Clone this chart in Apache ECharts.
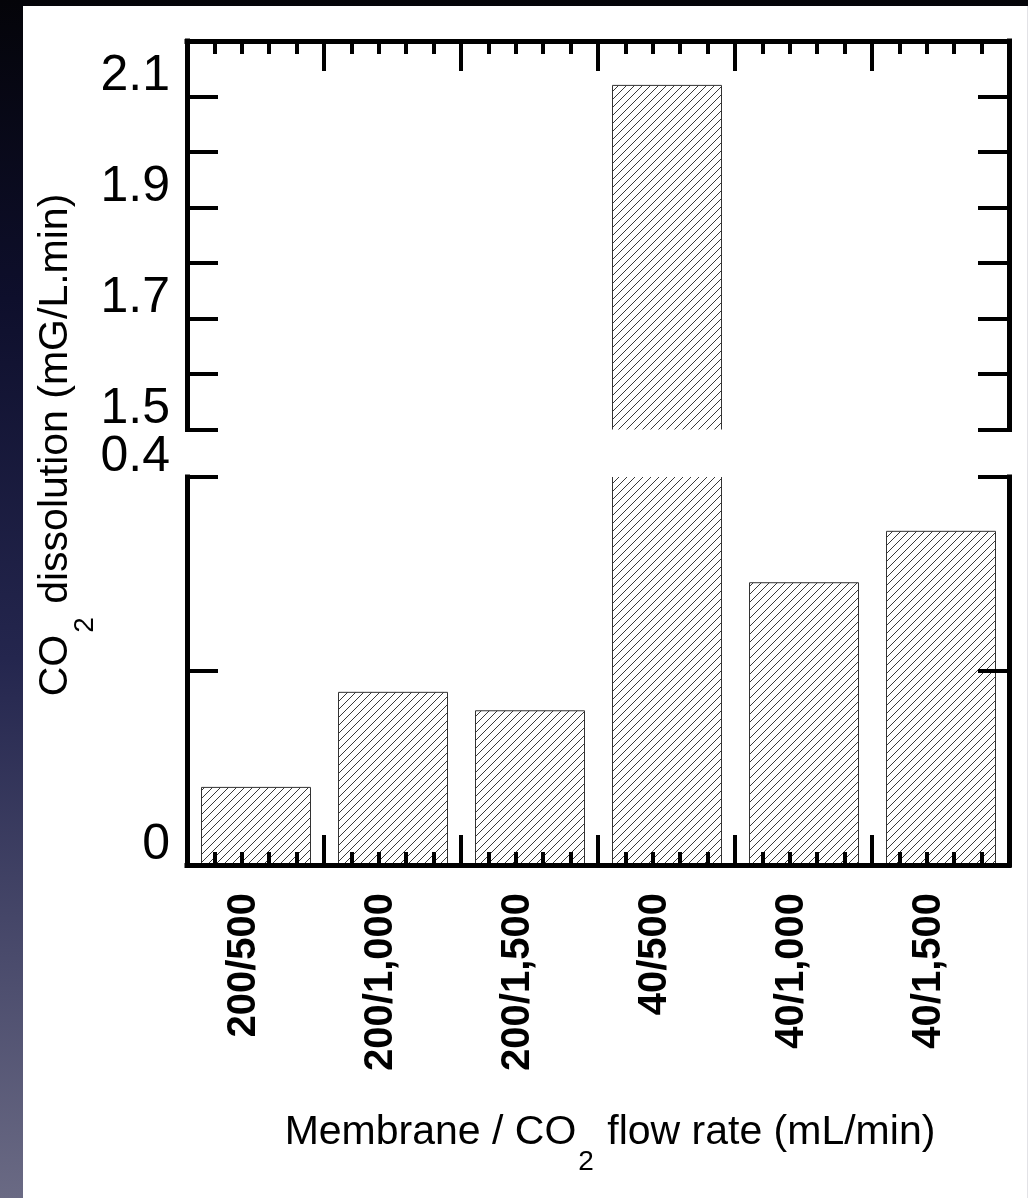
<!DOCTYPE html>
<html>
<head>
<meta charset="utf-8">
<script src="https://cdn.jsdelivr.net/npm/echarts@6/dist/echarts.min.js"></script>
<style>
  html, body { margin: 0; padding: 0; background: #000; }
  #chart { width: 1028px; height: 1198px; }
</style>
</head>
<body>
<div id="chart"></div>
<script>
// Membrane / CO2 flow rate combinations and measured dissolution (mG/L.min)
const categories = ['200/500', '200/1,000', '200/1,500', '40/500', '40/1,000', '40/1,500'];
const dissolution = [0.08, 0.178, 0.159, 2.12, 0.291, 0.344];

// broken value axis: upper and lower segments
const upperRange = [1.5, 2.2];
const lowerRange = [0, 0.4];
const upperTickLabels = ['1.5', '1.7', '1.9', '2.1'];
const lowerTickLabels = ['0', '0.4'];

const FONT = 'Liberation Sans, Arial, Helvetica, sans-serif';

// diagonal hatch fill for the bars
function hatchPattern() {
  const s = 8;
  const c = document.createElement('canvas');
  c.width = s; c.height = s;
  const g = c.getContext('2d');
  g.fillStyle = '#ffffff';
  g.fillRect(0, 0, s, s);
  g.strokeStyle = '#3a3a3a';
  g.lineWidth = 1;
  g.beginPath();
  g.moveTo(0, s); g.lineTo(s, 0);
  g.moveTo(-1, 1); g.lineTo(1, -1);
  g.moveTo(s - 1, s + 1); g.lineTo(s + 1, s - 1);
  g.stroke();
  return { image: c, repeat: 'repeat' };
}
const hatch = hatchPattern();

function fmtTick(list) {
  return function (v) {
    const s = Math.abs(v) < 1e-9 ? '0' : (+v).toFixed(1);
    return list.indexOf(s) >= 0 ? s : '';
  };
}

// hatched bar, cut at the plot edges without an outline on the cut side
function renderBar(params, api) {
  const idx = api.value(0);
  const val = api.value(1);
  const top = api.coord([idx, val]);
  const base = api.coord([idx, 0]);
  const w = api.size([1, 0])[0] * 0.8;
  const cs = params.coordSys;
  const y0 = Math.max(top[1], cs.y);
  const y1 = Math.min(base[1], cs.y + cs.height);
  if (y1 <= y0) return null;
  const x0 = Math.round(top[0] - w / 2) + 0.5;
  const x1 = Math.round(top[0] + w / 2) + 0.5;
  const cutTop = top[1] < cs.y;
  const pts = [[x0, y1], [x0, y0]];
  const children = [{
    type: 'rect',
    shape: { x: x0, y: y0, width: x1 - x0, height: y1 - y0 },
    style: { fill: hatch }
  }];
  if (cutTop) {
    children.push({ type: 'polyline', shape: { points: [[x0, y1], [x0, y0]] }, style: { stroke: '#333', lineWidth: 1, fill: null } });
    children.push({ type: 'polyline', shape: { points: [[x1, y1], [x1, y0]] }, style: { stroke: '#333', lineWidth: 1, fill: null } });
  } else {
    children.push({ type: 'polyline', shape: { points: [[x0, y1], [x0, y0], [x1, y0], [x1, y1]] }, style: { stroke: '#333', lineWidth: 1, fill: null } });
  }
  return { type: 'group', children: children };
}

const axisLineStyle = { color: '#000', width: 5, cap: 'square' };
const tickStyle = { color: '#000', width: 4 };

function tickXAxis(gridIndex, position) {
  return {
    type: 'value', gridIndex: gridIndex, position: position,
    min: 0, max: categories.length, interval: 1,
    axisLine: { show: true, lineStyle: axisLineStyle },
    axisTick: { show: true, inside: true, length: 30, lineStyle: tickStyle },
    minorTick: { show: true, splitNumber: 5, length: 13, lineStyle: tickStyle },
    axisLabel: { show: false },
    splitLine: { show: false }, minorSplitLine: { show: false },
    z: 5
  };
}

function valueYAxis(gridIndex, position, range, interval, labels) {
  return {
    type: 'value', gridIndex: gridIndex, position: position,
    min: range[0], max: range[1], interval: interval,
    axisLine: { show: true, lineStyle: axisLineStyle },
    axisTick: { show: true, inside: true, length: 31, lineStyle: tickStyle },
    axisLabel: labels ? {
      show: true, formatter: fmtTick(labels), color: '#000',
      fontFamily: FONT, fontSize: 50, margin: 17,
      verticalAlign: 'bottom', lineHeight: 40
    } : { show: false },
    splitLine: { show: false },
    z: 5
  };
}

const barData = dissolution.map(function (v, i) { return [i, v]; });

const chart = echarts.init(document.getElementById('chart'), null, { renderer: 'canvas' });

chart.setOption({
  animation: false,
  graphic: {
    elements: [
      {
        type: 'rect', silent: true, z: -100,
        shape: { x: 0, y: 0, width: 1028, height: 1198 },
        style: {
          fill: new echarts.graphic.LinearGradient(0, 0, 0, 1, [
            { offset: 0, color: '#040409' },
            { offset: 0.25, color: '#0e0f2c' },
            { offset: 0.55, color: '#24264e' },
            { offset: 0.8, color: '#4a4b6c' },
            { offset: 1, color: '#6a6a84' }
          ])
        }
      },
      {
        type: 'rect', silent: true, z: -99,
        shape: { x: 23, y: 6, width: 1005, height: 1192 },
        style: { fill: '#ffffff' }
      },
      {
        type: 'rect', silent: true, z: -98,
        shape: { x: 1027, y: 6, width: 1, height: 1192 },
        style: { fill: '#e2e2e6' }
      },
      {
        type: 'text', silent: true, z: 10,
        x: 56, y: 445, rotation: Math.PI / 2,
        style: {
          text: '{n|CO}{s|2}{n| dissolution (mG/L.min)}',
          align: 'center', verticalAlign: 'middle',
          rich: {
            n: { fontFamily: FONT, fontSize: 41, fill: '#000' },
            s: { fontFamily: FONT, fontSize: 28, fill: '#000', padding: [58, 2, 0, 2] }
          }
        }
      },
      {
        type: 'text', silent: true, z: 10,
        x: 610, y: 1133,
        style: {
          text: '{n|Membrane / CO}{s|2}{n| flow rate (mL/min)}',
          align: 'center', verticalAlign: 'middle',
          rich: {
            n: { fontFamily: FONT, fontSize: 41, fill: '#000' },
            s: { fontFamily: FONT, fontSize: 28, fill: '#000', padding: [58, 2, 0, 2] }
          }
        }
      }
    ]
  },
  grid: [
    { left: 187, right: 19, top: 41, height: 388.5, containLabel: false },
    { left: 187, right: 19, top: 477, height: 388, containLabel: false }
  ],
  xAxis: [
    { type: 'category', gridIndex: 0, data: categories, show: false },
    tickXAxis(0, 'top'),
    {
      type: 'category', gridIndex: 1, data: categories, position: 'bottom',
      axisLine: { show: false }, axisTick: { show: false },
      axisLabel: {
        show: true, interval: 0, rotate: 90, margin: 28,
        color: '#000', fontFamily: FONT, fontWeight: 'bold', fontSize: 40,
        verticalAlign: 'bottom', lineHeight: 24
      },
      splitLine: { show: false }
    },
    tickXAxis(1, 'bottom')
  ],
  yAxis: [
    valueYAxis(0, 'left', upperRange, 0.1, upperTickLabels),
    valueYAxis(0, 'right', upperRange, 0.1, null),
    valueYAxis(1, 'left', lowerRange, 0.2, lowerTickLabels),
    valueYAxis(1, 'right', lowerRange, 0.2, null)
  ],
  series: [
    {
      type: 'custom', xAxisIndex: 0, yAxisIndex: 0, data: barData,
      renderItem: renderBar, z: 2
    },
    {
      type: 'custom', xAxisIndex: 2, yAxisIndex: 2, data: barData,
      renderItem: renderBar, z: 2
    }
  ]
});
</script>
</body>
</html>
